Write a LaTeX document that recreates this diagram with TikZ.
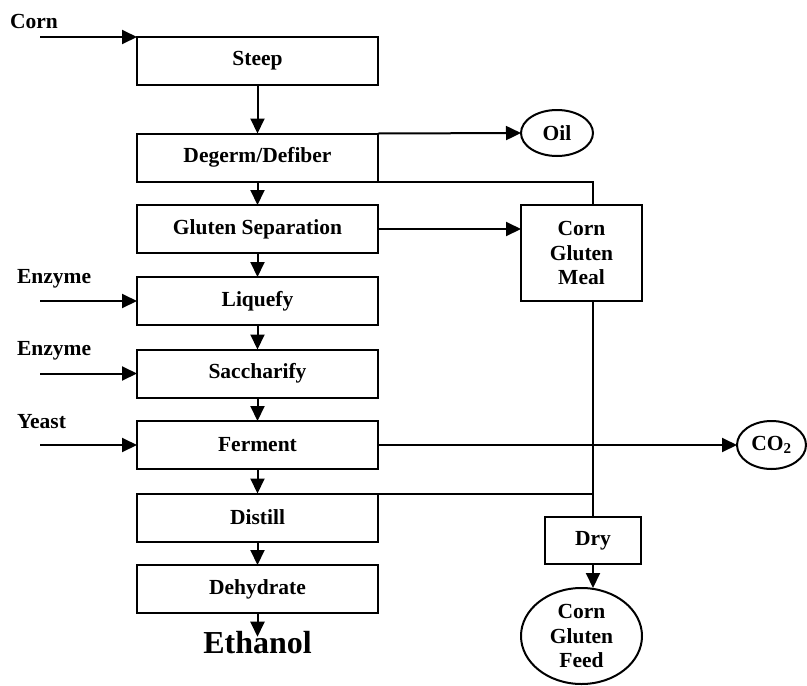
\documentclass[tikz,border=0pt]{standalone}
\usepackage{fontspec}
\setmainfont{Liberation Serif}
\usetikzlibrary{arrows.meta,shapes.geometric}
\begin{document}
\begin{tikzpicture}[x=1pt,y=-1pt,
 every node/.style={font=\fontsize{21.5}{24.5}\selectfont\bfseries, inner sep=0pt, outer sep=0pt},
 proc/.style={draw, line width=2pt, minimum width=241pt, minimum height=48pt},
 oval/.style={draw, ellipse, line width=2pt, inner sep=-6pt},
 line/.style={line width=2pt},
 arr/.style={line width=2pt, -{Triangle[length=15pt,width=14pt]}},
 lbl/.style={anchor=base west}]
\useasboundingbox (0,0) rectangle (807,686);
% main column
\node[proc] (steep)  at (257.5,61)    {Steep};
\node[proc] (degerm) at (257.5,157.5) {Degerm/Defiber};
\node[proc] (gluten) at (257.5,229)   {Gluten Separation};
\node[proc] (liq)    at (257.5,301)   {Liquefy};
\node[proc] (sac)    at (257.5,373.5) {Saccharify};
\node[proc] (fer)    at (257.5,445)   {Ferment};
\node[proc] (dist)   at (257.5,517.5) {Distill};
\node[proc] (dehyd)  at (257.5,589)   {Dehydrate};
\node[font=\fontsize{32}{36}\selectfont\bfseries] (eth) at (257.5,643) {Ethanol};
% side nodes
\node[draw, line width=2pt, minimum width=121pt, minimum height=96pt, align=center] (cgm) at (581.5,253) {Corn\\Gluten\\Meal};
\node[draw, line width=2pt, minimum width=96pt, minimum height=47pt] (dry) at (593,540.5) {Dry};
\node[oval, minimum width=121pt, minimum height=96pt, align=center] (feed) at (581.5,636) {Corn\\Gluten\\Feed};
\node[oval, minimum width=72pt, minimum height=46pt] (oil) at (557,133) {Oil};
\node[oval, minimum width=69pt, minimum height=48pt] (co2) at (771.5,445) {CO\textsubscript{2}};
% input labels
\node[lbl] (lcorn) at (10,28)  {Corn};
\node[lbl] (lenz1) at (17,283) {Enzyme};
\node[lbl] (lenz2) at (17,355) {Enzyme};
\node[lbl] (lyeast) at (17,428) {Yeast};
\coordinate (icorn) at (40,37);
\coordinate (ienz1) at (40,301);
\coordinate (ienz2) at (40,373.5);
\coordinate (iyeast) at (40,445);
% inputs
\draw[arr] (icorn) -- (steep.north west);
\draw[arr] (ienz1) -- (liq.west);
\draw[arr] (ienz2) -- (sac.west);
\draw[arr] (iyeast) -- (fer.west);
% main flow
\draw[arr] (steep) -- (degerm);
\draw[arr] (degerm) -- (gluten);
\draw[arr] (gluten) -- (liq);
\draw[arr] (liq) -- (sac);
\draw[arr] (sac) -- (fer);
\draw[arr] (fer) -- (dist);
\draw[arr] (dist) -- (dehyd);
\draw[arr, shorten >=-5pt] (dehyd) -- (eth.north);
% side flows
\draw[arr] (degerm.north east) -- (oil.west);
\draw[line] (degerm.south east) -| (cgm.north -| dry.north);
\draw[arr] (gluten.east) -- (gluten.east -| cgm.west);
\draw[line] (cgm.south -| dry.north) -- (dry.north);
\draw[line] (dist.north east) -- (dist.north east -| dry.north);
\draw[arr] (fer.east) -- (co2.west);
\draw[arr] (dry.south) -- (dry.south |- feed.north);
\end{tikzpicture}
\end{document}
